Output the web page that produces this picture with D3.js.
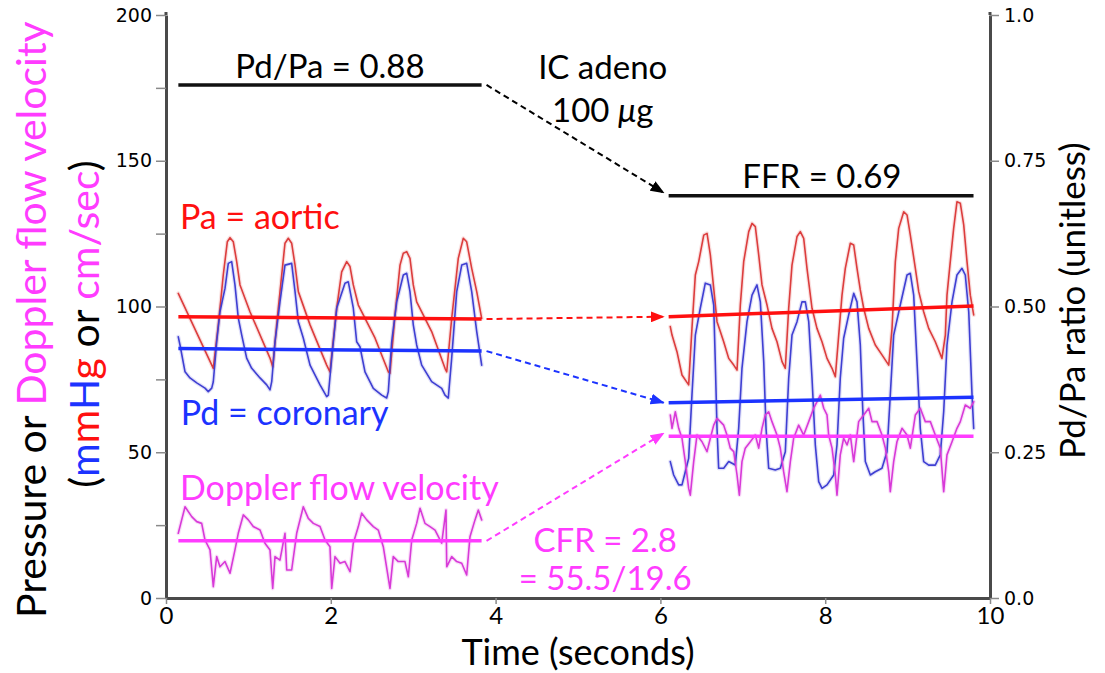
<!DOCTYPE html>
<html>
<head>
<meta charset="utf-8">
<script src="https://cdn.jsdelivr.net/npm/d3@7"></script>
<style>
  html, body { margin: 0; padding: 0; background: #fff; }
  svg { display: block; font-family: Lato, "Open Sans", sans-serif; }
</style>
</head>
<body>
<svg id="chart" width="1105" height="673"></svg>
<script>
// ---------- recording windows (seconds) ----------
const restWindow  = [0.15, 3.83];   // baseline recording
const hyperWindow = [6.10, 9.80];   // after IC adenosine

// ---------- mean values over each window ----------
const meanPaRest    = [96.5, 95.7];
const meanPdRest    = [85.6, 84.7];
const meanFlowRest  = [19.6, 19.6];
const meanPaHyper   = [96.5, 100.2];
const meanPdHyper   = [67.0, 68.9];
const meanFlowHyper = [55.5, 55.5];
const ratioRest  = 0.88;   // Pd/Pa at rest
const ratioHyper = 0.69;   // FFR

// ---------- axis ticks ----------
const timeTicks     = [0, 2, 4, 6, 8, 10];
const pressureTicks = [0, 25, 50, 75, 100, 125, 150, 175, 200];
const pressureLabels = ["0", "", "50", "", "100", "", "150", "", "200"];
const ratioTicks    = [0, 0.25, 0.5, 0.75, 1];
const ratioLabels   = ["0.0", "0.25", "0.50", "0.75", "1.0"];

// ---------- traces [time s, value] ----------
const paRest = [[0.149,104.5],[0.574,78.8],[0.635,93.7],[0.695,110.8],[0.744,122.2],[0.777,123.6],[0.817,122.2],[0.858,115.4],[0.898,107.4],[1.019,98.2],[1.262,82.3],[1.295,79.3],[1.343,93.7],[1.404,110.8],[1.444,121.7],[1.484,123.4],[1.525,121.7],[1.566,114.2],[1.606,105.1],[1.748,93.7],[1.950,79.9],[1.990,77.6],[2.072,99.5],[2.132,111.9],[2.193,115.4],[2.233,113.7],[2.273,107.4],[2.334,100.5],[2.536,89.2],[2.698,77.6],[2.718,77.1],[2.779,97.1],[2.840,114.2],[2.880,118.3],[2.921,118.8],[2.961,116.5],[3.001,107.4],[3.042,101.6],[3.224,91.4],[3.386,78.8],[3.407,77.6],[3.467,95.9],[3.547,116.5],[3.608,123.4],[3.649,122.2],[3.710,113.1],[3.771,105.1],[3.831,95.9]];

const pdRest = [[0.149,89.6],[0.170,86.8],[0.231,77.6],[0.291,75.5],[0.373,73.8],[0.473,72.0],[0.513,70.8],[0.555,72.0],[0.574,74.2],[0.615,87.9],[0.655,98.2],[0.716,106.2],[0.756,114.8],[0.797,115.4],[0.837,107.4],[0.877,96.1],[0.919,90.2],[0.979,82.3],[1.040,78.8],[1.141,75.5],[1.222,73.1],[1.262,71.4],[1.283,74.2],[1.323,87.9],[1.383,101.6],[1.444,114.2],[1.525,114.8],[1.566,105.1],[1.606,94.8],[1.666,89.2],[1.748,79.9],[1.869,73.1],[1.950,69.1],[1.970,69.6],[2.011,82.3],[2.072,99.5],[2.172,108.0],[2.212,108.5],[2.273,99.5],[2.314,87.9],[2.354,86.2],[2.415,77.6],[2.516,71.9],[2.618,69.6],[2.678,68.6],[2.698,70.8],[2.739,87.9],[2.800,101.6],[2.880,110.8],[2.921,111.4],[2.961,105.1],[3.001,93.7],[3.042,86.8],[3.103,79.9],[3.224,74.2],[3.346,71.9],[3.386,69.6],[3.426,68.6],[3.467,82.3],[3.528,105.1],[3.589,114.2],[3.649,114.8],[3.710,105.1],[3.771,91.4],[3.831,79.9]];

const flowRest = [[0.149,22.2],[0.231,31.3],[0.312,27.9],[0.373,26.2],[0.433,25.6],[0.473,19.9],[0.534,16.5],[0.574,3.9],[0.615,14.2],[0.655,10.7],[0.716,12.5],[0.777,8.5],[0.837,16.5],[0.877,22.2],[0.938,28.5],[0.999,26.8],[1.059,24.5],[1.141,23.3],[1.201,18.8],[1.262,16.5],[1.295,3.3],[1.323,14.2],[1.383,13.0],[1.444,22.2],[1.465,9.6],[1.525,9.6],[1.586,22.2],[1.666,31.3],[1.727,27.3],[1.788,25.6],[1.869,24.5],[1.930,19.9],[1.990,17.6],[2.011,3.3],[2.051,14.2],[2.112,11.9],[2.172,12.5],[2.233,9.0],[2.273,18.8],[2.334,24.5],[2.375,29.1],[2.436,26.8],[2.516,24.5],[2.576,23.3],[2.637,17.6],[2.718,3.3],[2.758,14.2],[2.819,12.5],[2.900,12.5],[2.941,7.3],[2.982,19.9],[3.042,25.6],[3.083,30.8],[3.143,25.6],[3.204,24.5],[3.265,23.3],[3.346,18.8],[3.398,30.2],[3.407,10.7],[3.467,14.2],[3.528,12.5],[3.589,11.9],[3.649,7.9],[3.689,21.0],[3.750,26.8],[3.790,30.2],[3.831,26.8]];

const paHyper = [[6.120,93.1],[6.141,90.2],[6.201,84.5],[6.262,76.5],[6.343,73.1],[6.383,92.5],[6.424,110.8],[6.465,115.4],[6.526,124.5],[6.566,125.1],[6.606,117.7],[6.647,106.2],[6.687,94.8],[6.727,91.4],[6.768,87.9],[6.829,82.2],[6.890,79.9],[6.930,78.2],[6.970,100.5],[7.011,115.4],[7.072,125.7],[7.112,128.5],[7.152,127.4],[7.193,117.7],[7.233,107.4],[7.294,100.5],[7.354,92.5],[7.415,87.9],[7.476,81.1],[7.516,78.8],[7.557,99.4],[7.597,114.2],[7.658,124.0],[7.698,125.7],[7.739,123.4],[7.779,113.1],[7.840,99.4],[7.900,92.5],[7.961,87.9],[8.022,82.2],[8.083,78.8],[8.123,75.9],[8.164,90.2],[8.204,103.9],[8.244,113.1],[8.305,121.7],[8.346,121.1],[8.386,113.1],[8.426,105.7],[8.467,99.4],[8.528,92.5],[8.608,86.8],[8.689,83.4],[8.771,79.9],[8.811,92.5],[8.851,115.4],[8.892,126.8],[8.953,132.5],[8.993,131.4],[9.033,124.5],[9.094,113.1],[9.135,105.1],[9.195,98.2],[9.256,92.5],[9.336,87.9],[9.417,82.2],[9.458,90.2],[9.478,103.9],[9.518,115.4],[9.559,126.8],[9.599,135.9],[9.640,135.4],[9.681,128.0],[9.721,115.4],[9.761,103.9],[9.802,97.1]];

const pdHyper = [[6.120,46.8],[6.161,42.2],[6.222,38.8],[6.262,38.8],[6.302,43.3],[6.343,47.9],[6.383,69.6],[6.424,90.2],[6.484,99.4],[6.545,108.0],[6.606,107.4],[6.647,100.5],[6.666,81.1],[6.687,58.2],[6.707,44.5],[6.768,44.5],[6.829,46.8],[6.909,45.6],[6.950,58.2],[6.990,78.8],[7.051,94.8],[7.112,103.9],[7.172,107.4],[7.213,101.6],[7.254,81.1],[7.282,58.2],[7.314,44.5],[7.394,43.9],[7.455,44.5],[7.516,50.2],[7.557,75.4],[7.597,90.2],[7.658,94.8],[7.718,101.6],[7.759,101.6],[7.800,94.8],[7.840,75.4],[7.880,52.5],[7.921,39.9],[7.961,37.6],[8.022,38.8],[8.103,42.2],[8.143,52.5],[8.183,75.4],[8.224,89.1],[8.285,97.1],[8.346,104.5],[8.386,101.6],[8.426,86.8],[8.455,65.1],[8.487,46.8],[8.548,42.2],[8.608,43.3],[8.689,44.5],[8.750,50.2],[8.790,69.6],[8.831,90.2],[8.911,100.5],[8.993,110.8],[9.033,111.4],[9.074,103.9],[9.114,81.1],[9.154,58.2],[9.195,46.8],[9.256,45.6],[9.336,45.6],[9.397,49.1],[9.438,63.9],[9.478,86.8],[9.539,101.6],[9.599,110.8],[9.660,113.1],[9.700,110.8],[9.742,98.2],[9.782,69.6],[9.802,58.2]];

const flowHyper = [[6.120,62.8],[6.141,58.2],[6.181,63.9],[6.222,58.2],[6.262,54.8],[6.302,46.8],[6.343,37.6],[6.363,35.3],[6.404,46.8],[6.444,55.9],[6.505,53.6],[6.566,50.2],[6.606,54.8],[6.647,59.3],[6.687,61.6],[6.727,60.5],[6.768,59.3],[6.808,55.9],[6.848,51.4],[6.890,50.2],[6.930,42.2],[6.958,35.3],[6.990,46.8],[7.030,51.4],[7.091,53.6],[7.152,55.9],[7.193,51.4],[7.233,58.2],[7.273,62.8],[7.314,63.9],[7.354,60.5],[7.415,55.9],[7.455,51.4],[7.496,43.3],[7.536,36.5],[7.577,46.8],[7.617,54.8],[7.678,59.3],[7.739,55.9],[7.800,60.5],[7.860,65.1],[7.900,67.3],[7.941,69.6],[7.982,65.1],[8.022,62.8],[8.042,55.9],[8.083,51.4],[8.123,42.2],[8.143,35.3],[8.183,49.1],[8.224,54.8],[8.265,52.5],[8.305,55.9],[8.346,46.8],[8.406,60.5],[8.467,62.8],[8.528,65.1],[8.568,60.5],[8.629,60.5],[8.689,55.9],[8.730,51.4],[8.771,43.3],[8.790,36.5],[8.831,46.8],[8.871,53.6],[8.932,58.2],[8.993,55.9],[9.033,51.4],[9.094,62.8],[9.154,65.1],[9.215,60.5],[9.276,60.5],[9.336,55.9],[9.397,51.4],[9.438,36.5],[9.478,49.1],[9.539,53.6],[9.599,58.2],[9.640,60.5],[9.700,66.2],[9.761,65.1],[9.802,67.3]];

// ---------- layout ----------
const svg = d3.select("#chart");
const x = d3.scaleLinear().domain([0, 10]).range([166, 990]);
const y = d3.scaleLinear().domain([0, 200]).range([598, 15]);
const yRatio = d3.scaleLinear().domain([0, 1]).range([598, 15]);

const RED = "#ff1010", BLUE = "#1c33ff", MAGENTA = "#ff3cff", BLACK = "#111";
const traceColors = { pa: "#dc3d3d", pd: "#3f3fd2", flow: "#d83ad8" };

// ---------- arrow markers ----------
const defs = svg.append("defs");
function marker(id, color) {
  defs.append("marker")
    .attr("id", id).attr("viewBox", "0 0 14 11")
    .attr("refX", 13).attr("refY", 5.5)
    .attr("markerWidth", 14).attr("markerHeight", 11)
    .attr("markerUnits", "userSpaceOnUse").attr("orient", "auto")
    .append("path").attr("d", "M0,0 L14,5.5 L0,11 Z").attr("fill", color);
}
marker("arrBlack", "#000");
marker("arrRed", RED);
marker("arrBlue", BLUE);
marker("arrMagenta", MAGENTA);

// ---------- axes ----------
const axisColor = "#4a4a4a";

const leftAxis = svg.append("g").attr("transform", `translate(${x(0)},0)`)
  .call(d3.axisLeft(y).tickValues(pressureTicks)
    .tickFormat((d, i) => pressureLabels[i]).tickSize(10).tickSizeOuter(0).tickPadding(4));
leftAxis.selectAll("text").style("font-family", "'DejaVu Sans', Verdana, sans-serif")
  .style("font-size", "19px").attr("fill", "#000");

const rightAxis = svg.append("g").attr("transform", `translate(${x(10)},0)`)
  .call(d3.axisRight(yRatio).tickValues(ratioTicks)
    .tickFormat((d, i) => ratioLabels[i]).tickSize(9).tickSizeOuter(0).tickPadding(5));
rightAxis.selectAll("text").style("font-family", "'DejaVu Sans', Verdana, sans-serif")
  .style("font-size", "19px").attr("fill", "#000");

const bottomAxis = svg.append("g").attr("transform", `translate(0,${y(0)})`)
  .call(d3.axisBottom(x).tickValues(timeTicks).tickFormat(d3.format("d"))
    .tickSize(6).tickSizeOuter(0).tickPadding(3));
bottomAxis.selectAll("text").style("font-family", "Lato, sans-serif")
  .style("font-size", "24px").attr("fill", "#000");

[leftAxis, rightAxis, bottomAxis].forEach(g => {
  g.select(".domain").attr("stroke", axisColor).attr("stroke-width", 3);
  g.selectAll(".tick line").attr("stroke", "#8a8a8a").attr("stroke-width", 1.5);
});
// extend vertical axis lines slightly above the top tick
svg.append("line").attr("x1", x(0)).attr("x2", x(0)).attr("y1", y(200) - 3).attr("y2", y(200))
  .attr("stroke", axisColor).attr("stroke-width", 3);
svg.append("line").attr("x1", x(10)).attr("x2", x(10)).attr("y1", y(200) - 3).attr("y2", y(200))
  .attr("stroke", axisColor).attr("stroke-width", 3);

// ---------- axis titles ----------
const t1 = svg.append("text").attr("transform", `translate(46,${y(95.5)}) rotate(-90)`)
  .attr("text-anchor", "middle").style("font-size", "41px");
t1.append("tspan").attr("fill", "#000").text("Pressure or ");
t1.append("tspan").attr("fill", MAGENTA).text("Doppler flow velocity");

const t2 = svg.append("text").attr("transform", `translate(99,${y(94)}) rotate(-90)`)
  .attr("text-anchor", "middle").style("font-size", "41px");
[["(", "#000"], ["m", BLUE], ["m", RED], ["H", BLUE], ["g", RED], [" or ", "#000"],
 ["cm/sec", MAGENTA], [")", "#000"]].forEach(([s, c]) => t2.append("tspan").attr("fill", c).text(s));

svg.append("text").attr("transform", `translate(1085,${yRatio(0.51)}) rotate(-90)`)
  .attr("text-anchor", "middle").style("font-size", "35px").attr("fill", "#000")
  .text("Pd/Pa ratio (unitless)");

svg.append("text").attr("x", x(5)).attr("y", 665).attr("text-anchor", "middle")
  .style("font-size", "36px").attr("fill", "#000").text("Time (seconds)");

// ---------- traces ----------
const line = d3.line().x(d => x(d[0])).y(d => y(d[1]));
const traces = [
  [paRest, traceColors.pa], [paHyper, traceColors.pa],
  [pdRest, traceColors.pd], [pdHyper, traceColors.pd],
  [flowRest, traceColors.flow], [flowHyper, traceColors.flow]
];
const gTr = svg.append("g").attr("fill", "none").attr("stroke-linejoin", "round").attr("stroke-linecap", "round");
traces.forEach(([data, c]) => {
  gTr.append("path").attr("d", line(data)).attr("stroke", c).attr("stroke-width", 4).attr("opacity", 0.16);
});
traces.forEach(([data, c]) => {
  gTr.append("path").attr("d", line(data)).attr("stroke", c).attr("stroke-width", 1.6);
});

// ---------- mean lines ----------
function seg(win, vals) { return [[win[0], vals[0]], [win[1], vals[1]]]; }
const means = [
  [seg(restWindow, meanPaRest), RED], [seg(hyperWindow, meanPaHyper), RED],
  [seg(restWindow, meanPdRest), BLUE], [seg(hyperWindow, meanPdHyper), BLUE],
  [seg(restWindow, meanFlowRest), MAGENTA], [seg(hyperWindow, meanFlowHyper), MAGENTA]
];
means.forEach(([d, c]) => svg.append("path").attr("d", line(d)).attr("fill", "none")
  .attr("stroke", c).attr("stroke-width", 3.5));

// Pd/Pa ratio lines on the right-hand axis
const ratioLine = d3.line().x(d => x(d[0])).y(d => yRatio(d[1]));
[[restWindow, ratioRest], [hyperWindow, ratioHyper]].forEach(([w, r]) =>
  svg.append("path").attr("d", ratioLine([[w[0], r], [w[1], r]])).attr("fill", "none")
    .attr("stroke", BLACK).attr("stroke-width", 3.5));

// ---------- dashed transition arrows ----------
const gap = 0.06;
function arrow(x0, y0, x1, y1, color, id) {
  svg.append("line").attr("x1", x0).attr("y1", y0).attr("x2", x1).attr("y2", y1)
    .attr("stroke", color).attr("stroke-width", 2).attr("stroke-dasharray", "6,4")
    .attr("marker-end", `url(#${id})`);
}
arrow(x(restWindow[1] + gap), yRatio(ratioRest), x(hyperWindow[0] - gap), yRatio(ratioHyper) - 3, "#000", "arrBlack");
arrow(x(restWindow[1] + gap), y(meanPaRest[1]), x(hyperWindow[0] - gap), y(meanPaHyper[0]), RED, "arrRed");
arrow(x(restWindow[1] + gap), y(meanPdRest[1]), x(hyperWindow[0] - gap), y(meanPdHyper[0]), BLUE, "arrBlue");
arrow(x(restWindow[1] + gap), y(meanFlowRest[1]), x(hyperWindow[0] - gap), y(meanFlowHyper[0]) - 3, MAGENTA, "arrMagenta");

// ---------- annotations ----------
function label(t, v, str, color, anchor, size) {
  return svg.append("text").attr("x", x(t)).attr("y", y(v)).attr("fill", color)
    .attr("text-anchor", anchor || "start").style("font-size", (size || 33) + "px").text(str);
}
label(1.99, 178.5, "Pd/Pa = 0.88", "#000", "middle");
label(5.30, 178.2, "IC adeno", "#000", "middle");
const ug = label(5.30, 163.2, "100 ", "#000", "middle");
ug.append("tspan").style("font-style", "italic").text("\u03bc");
ug.append("tspan").text("g");
label(7.96, 140.5, "FFR = 0.69", "#000", "middle");
label(0.17, 126.6, "Pa = aortic", RED, "start", 34);
label(0.18, 59.3, "Pd = coronary", BLUE, "start", 34);
label(0.17, 33.6, "Doppler flow velocity", MAGENTA, "start", 34);
label(5.33, 15.8, "CFR = " + (meanFlowHyper[0] / meanFlowRest[0]).toFixed(1), MAGENTA, "middle");
label(5.33, 2.8, "= " + meanFlowHyper[0].toFixed(1) + "/" + meanFlowRest[0].toFixed(1), MAGENTA, "middle");
</script>
</body>
</html>
